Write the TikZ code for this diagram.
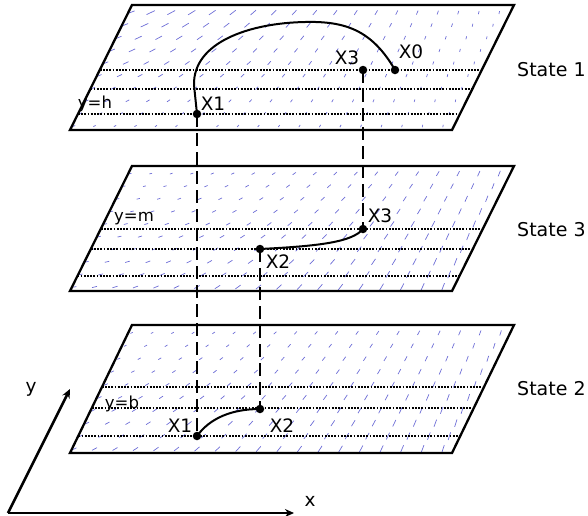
\documentclass[tikz,border=0pt]{standalone}
\usepackage{fontspec}
\setmainfont{DejaVu Sans}
\usetikzlibrary{arrows.meta,calc}
\definecolor{vecblue}{RGB}{60,60,200}
\begin{document}
\begin{tikzpicture}[x=1pt,y=-1pt,
  planeedge/.style={line width=2.3pt,line join=miter},
  dotline/.style={line width=2pt,dash pattern=on 1.8pt off 1.4pt},
  proj/.style={line width=1.9pt,dash pattern=on 13pt off 6pt},
  traj/.style={line width=2pt},
  pt/.style={circle,fill=black,inner sep=0pt,minimum size=8.5pt},
  plabel/.style={font=\fontsize{18.5}{20}\selectfont,inner sep=0pt},
  ylabel/.style={font=\fontsize{16.5}{18}\selectfont,inner sep=0pt},
  slabel/.style={font=\fontsize{19}{21}\selectfont,inner sep=0pt,anchor=west},
  vec/.style={vecblue,opacity=0.75,line width=0.7pt},
  axis/.style={line width=2.6pt,-{Stealth[length=9pt,width=8pt]}}]
\useasboundingbox (0,0) rectangle (588,515);

% plane corners
\foreach \b/\t/\n in {130/5/1,291/166/2,453/325/3}{
  \coordinate (bl\n) at (70,\b);
  \coordinate (br\n) at (452,\b);
  \coordinate (tr\n) at (514,\t);
  \coordinate (tl\n) at (132,\t);
}

% vector fields
\begin{scope}
\clip (bl1) -- (br1) -- (tr1) -- (tl1) -- cycle;
\foreach \i in {0,...,19}{\foreach \j in {0,...,9}{
  \pgfmathsetmacro\u{\i/19}\pgfmathsetmacro\v{\j/9}
  \pgfmathsetmacro\ang{22+60*\u}
  \pgfmathsetmacro\len{2.5+7*\v*(1-\u)}
  \draw[vec] ({74+\i*20.5+\j*12.6*0.496},{126-\j*12.6}) ++(-\ang+180:\len/2) -- ++(-\ang:\len);
}}
\end{scope}
\begin{scope}
\clip (bl2) -- (br2) -- (tr2) -- (tl2) -- cycle;
\foreach \i in {0,...,19}{\foreach \j in {0,...,9}{
  \pgfmathsetmacro\u{\i/19}\pgfmathsetmacro\v{\j/9}
  \pgfmathsetmacro\ang{10+62*\u}
  \pgfmathsetmacro\len{2.5+6*(0.6*\u+0.4*(1-\v))}
  \draw[vec] ({74+\i*20.5+\j*12.6*0.496},{287-\j*12.6}) ++(-\ang+180:\len/2) -- ++(-\ang:\len);
}}
\end{scope}
\begin{scope}
\clip (bl3) -- (br3) -- (tr3) -- (tl3) -- cycle;
\foreach \i in {0,...,19}{\foreach \j in {0,...,9}{
  \pgfmathsetmacro\u{\i/19}\pgfmathsetmacro\v{\j/9}
  \pgfmathsetmacro\ang{25+50*\u}
  \pgfmathsetmacro\len{2.5+6*(0.5*\u+0.5*(1-\v))}
  \draw[vec] ({74+\i*20.5+\j*12.9*0.496},{449-\j*12.9}) ++(-\ang+180:\len/2) -- ++(-\ang:\len);
}}
\end{scope}

% dotted level lines
\foreach \n/\hs in {1/{60,41,16},2/{62,42,15},3/{64,44,17}}{
  \foreach \h in \hs{
    \draw[dotline] ($(bl\n)!\h/125!(tl\n)$) -- ($(br\n)!\h/125!(tr\n)$);
  }
}

% planes
\foreach \n in {1,2,3}{
  \draw[planeedge] (bl\n) -- (br\n) -- (tr\n) -- (tl\n) -- cycle;
}

% points
\node[pt] (aX0) at (395,70) {};
\node[pt] (aX3) at (363,70) {};
\node[pt] (aX1) at (197,114) {};
\node[pt] (bX3) at (363,229) {};
\node[pt] (bX2) at (260,249) {};
\node[pt] (cX2) at (260,409) {};
\node[pt] (cX1) at (197,436) {};

% projections
\draw[proj] (aX1.center) -- (cX1.center);
\draw[proj] (aX3.center) -- (bX3.center);
\draw[proj] (bX2.center) -- (cX2.center);

% trajectories
\draw[traj] (aX0.center) .. controls (372,30) and (345,21) .. (305,22)
  .. controls (250,23) and (193,42) .. (194,85) -- (aX1.center);
\draw[traj] (bX2.center) .. controls (320,246) and (352,242) .. (bX3.center);
\draw[traj] (cX1.center) .. controls (210,418) and (232,409) .. (cX2.center);

% labels
\node[plabel] (lX0) at (411,52) {X0};
\node[plabel] (lX3a) at (347,58) {X3};
\node[plabel] (lX1a) at (213,104) {X1};
\node[ylabel] (lyh) at (95,104) {y=h};
\node[ylabel] (lym) at (134,219) {y=m};
\node[plabel] (lX3b) at (380,216) {X3};
\node[plabel] (lX2b) at (278,262) {X2};
\node[ylabel] (lyb) at (122,404) {y=b};
\node[plabel] (lX1c) at (180,426) {X1};
\node[plabel] (lX2c) at (282,426) {X2};

\node[slabel] (s1) at (517,70) {State 1};
\node[slabel] (s3) at (517,230) {State 3};
\node[slabel] (s2) at (517,389) {State 2};

% axes
\coordinate (orig) at (8,513);
\coordinate (yend) at (70,389);
\coordinate (xend) at (294,513);
\draw[axis] (orig) -- (yend);
\draw[axis] (orig) -- (xend);
\node[plabel] (ly) at (31,389) {y};
\node[plabel] (lx) at (310,501) {x};
\end{tikzpicture}
\end{document}
